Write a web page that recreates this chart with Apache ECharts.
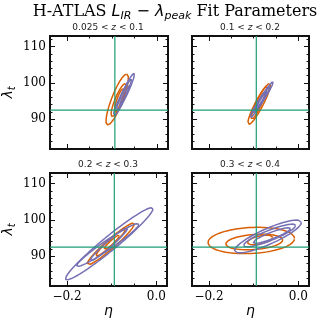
<!DOCTYPE html>
<html><head><meta charset="utf-8">
<script src="https://cdn.jsdelivr.net/npm/echarts@6/dist/echarts.min.js"></script>
<style>html,body{margin:0;padding:0;background:#fff}#c{width:324px;height:323px}</style>
</head><body><div id="c"></div>
<script>
// ---- data ----
const panelTitles = ['0.025 < {i|z} < 0.1', '0.1 < {i|z} < 0.2', '0.2 < {i|z} < 0.3', '0.3 < {i|z} < 0.4'];
const refEta = -0.094;
const refLambda = 92.5;
const xMajorTicks = [-0.2, 0.0];
const xMinorTicks = [-0.2, -0.15, -0.1, -0.05, 0.0];
const yMajorTicks = [90, 100, 110];
const yMinorTicks = [82, 84, 86, 88, 90, 92, 94, 96, 98, 100, 102, 104, 106, 108, 110, 112];
const xRange = [-0.238, 0.024];
const yRange = [81.8, 112.95];
// contour ellipses: [centre eta, centre lambda, half-axis eta, half-axis lambda, conj eta, conj lambda]
const orange_z1 = [
  [-0.0888, 95.45, 0.0209, 7.02, 0.0132, 0],
  [-0.0855, 95.3, 0.0143, 4.55, 0.0088, 0],
  [-0.0844, 95.3, 0.0088, 3.22, 0.0055, 0]];
const purple_z1 = [
  [-0.074, 96.7, 0.0227, 5.98, 0.0066, 0],
  [-0.074, 96.7, 0.0165, 4.4, 0.0044, 0],
  [-0.0722, 96.55, 0.011, 2.75, 0.0029, 0]];
const orange_z2 = [
  [-0.0877, 94.2, 0.0231, 5.65, 0.0099, 0],
  [-0.0877, 94.5, 0.0165, 4.55, 0.0066, 0],
  [-0.0855, 94.6, 0.011, 3.03, 0.0044, 0]];
const purple_z2 = [
  [-0.0826, 95.3, 0.0258, 5.04, 0.0055, 0],
  [-0.0826, 95.3, 0.0187, 3.72, 0.004, 0],
  [-0.0826, 95.3, 0.0121, 2.48, 0.0026, 0]];
const orange_z3 = [
  [-0.102, 93.4, 0.0529, 5.51, 0, 1.65],
  [-0.102, 93.8, 0.033, 3.58, 0, 1.1],
  [-0.100, 93.8, 0.0176, 1.93, 0, 0.69]];
const purple_z3 = [
  [-0.1053, 93.44, 0.098, 9.64, 0, 2.48],
  [-0.1086, 93.1, 0.0698, 5.73, 0, 1.52],
  [-0.1064, 93.25, 0.0419, 4.41, 0, 1.1]];
const orange_z4 = [
  [-0.1053, 94.35, 0.0969, 0.55, 0, 3.58],
  [-0.0987, 93.94, 0.0639, 0.55, 0, 2.07],
  [-0.0855, 94.5, 0.0286, 0.69, 0, 1.1]];
const purple_z4 = [
  [-0.0678, 95.45, 0.0749, 3.86, 0, 2.34],
  [-0.0641, 95.73, 0.0584, 2.75, 0, 1.52],
  [-0.059, 95.73, 0.0419, 1.93, 0, 0.96]];

const ORANGE = '#d95f02', PURPLE = '#7570b3', GREEN = '#1b9e77';
const panels = [
  {orange: orange_z1, purple: purple_z1},
  {orange: orange_z2, purple: purple_z2},
  {orange: orange_z3, purple: purple_z3},
  {orange: orange_z4, purple: purple_z4}];

const gridRects = [
  {left: 49, top: 36, width: 119, height: 113},
  {left: 192, top: 36, width: 117, height: 113},
  {left: 49, top: 173, width: 118, height: 113},
  {left: 192, top: 173, width: 117, height: 113}];

function ellipse(p) {
  const pts = [];
  const N = 120;
  for (let i = 0; i <= N; i++) {
    const t = 2 * Math.PI * i / N;
    pts.push([p[0] + p[2] * Math.cos(t) + p[4] * Math.sin(t),
              p[1] + p[3] * Math.cos(t) + p[5] * Math.sin(t)]);
  }
  return pts;
}
const fmtX = v => (v < 0 ? '\u2212' : '') + Math.abs(v).toFixed(1);
const tickStyle = {color: '#111', width: 1};
const labelFont = {fontFamily: 'DejaVu Serif', fontSize: 12, color: '#000'};

const grids = [], xAxes = [], yAxes = [], series = [];
gridRects.forEach((r, g) => {
  grids.push(Object.assign({show: true, borderColor: '#111', borderWidth: 2, backgroundColor: 'transparent', containLabel: false}, r));
  const bottomRow = g >= 2, leftCol = g % 2 === 0;
  const mkX = (pos, ticks, len, labels) => ({
    gridIndex: g, type: 'value', position: pos, min: xRange[0], max: xRange[1],
    axisLine: {show: false, onZero: false}, splitLine: {show: false},
    axisTick: {show: true, inside: true, length: len, customValues: ticks, lineStyle: tickStyle},
    axisLabel: Object.assign({show: labels, customValues: xMajorTicks, formatter: fmtX, margin: 5}, labelFont),
    name: labels ? '\u03b7' : '', nameLocation: 'middle', nameGap: 17,
    nameTextStyle: {fontFamily: 'DejaVu Sans', fontStyle: 'italic', fontSize: 14, color: '#000'}
  });
  const mkY = (pos, ticks, len, labels) => ({
    gridIndex: g, type: 'value', position: pos, min: yRange[0], max: yRange[1],
    axisLine: {show: false, onZero: false}, splitLine: {show: false},
    axisTick: {show: true, inside: true, length: len, customValues: ticks, lineStyle: tickStyle},
    axisLabel: Object.assign({show: labels, customValues: yMajorTicks, formatter: v => String(Math.round(v)), margin: 4}, labelFont),
    name: labels ? '{a|\u03bb}{b|t}' : '', nameLocation: 'middle', nameGap: 33, nameRotate: 90,
    nameTextStyle: {rich: {
      a: {fontFamily: 'DejaVu Sans', fontStyle: 'italic', fontSize: 14, lineHeight: 18, color: '#000'},
      b: {fontFamily: 'DejaVu Sans', fontStyle: 'italic', fontSize: 10, lineHeight: 9, verticalAlign: 'bottom', color: '#000'}}}
  });
  xAxes.push(mkX('bottom', xMajorTicks, 5, bottomRow), mkX('bottom', xMinorTicks, 2.5, false),
             mkX('top', xMajorTicks, 5, false), mkX('top', xMinorTicks, 2.5, false));
  yAxes.push(mkY('left', yMajorTicks, 5, leftCol), mkY('left', yMinorTicks, 2.5, false),
             mkY('right', yMajorTicks, 5, false), mkY('right', yMinorTicks, 2.5, false));
  const p = panels[g];
  const line = (data, color, width, z) => series.push({
    type: 'line', xAxisIndex: 4 * g, yAxisIndex: 4 * g, data: data, showSymbol: false,
    symbol: 'none', smooth: false, silent: true, animation: false, clip: true,
    lineStyle: {color: color, width: width}, z: z
  });
  p.orange.forEach(e => line(ellipse(e), ORANGE, 1.5, 3));
  p.purple.forEach(e => line(ellipse(e), PURPLE, 1.5, 3));
  line([[refEta, yRange[0]], [refEta, yRange[1]]], GREEN, 1.2, 5);
  line([[xRange[0], refLambda], [xRange[1], refLambda]], GREEN, 1.2, 5);
});

const subTitleCenters = [[108, 28], [250, 28], [108, 165], [250, 165]];
const graphics = [{
  type: 'text', x: 175, y: 12, z: 10,
  style: {
    text: '{s|H-ATLAS }{m|L}{sb|IR}{n| \u2212 }{m|\u03bb}{sb|peak}{s| Fit Parameters}',
    align: 'center', verticalAlign: 'middle', textAlign: 'center', textVerticalAlign: 'middle',
    rich: {
      s: {fontFamily: 'DejaVu Serif', fontSize: 16, lineHeight: 20, fill: '#000', color: '#000'},
      m: {fontFamily: 'DejaVu Sans', fontStyle: 'italic', fontSize: 16, lineHeight: 20, fill: '#000', color: '#000'},
      n: {fontFamily: 'DejaVu Sans', fontSize: 16, lineHeight: 20, fill: '#000', color: '#000'},
      sb: {fontFamily: 'DejaVu Sans', fontStyle: 'italic', fontSize: 11, lineHeight: 10, verticalAlign: 'bottom', fill: '#000', color: '#000'}
    }
  }
}];
panelTitles.forEach((t, i) => graphics.push({
  type: 'text', x: subTitleCenters[i][0], y: subTitleCenters[i][1], z: 10,
  style: {
    text: t, align: 'center', verticalAlign: 'middle', textAlign: 'center', textVerticalAlign: 'middle',
    fontFamily: 'DejaVu Sans', fontSize: 9, fill: '#222',
    rich: {i: {fontFamily: 'DejaVu Sans', fontStyle: 'italic', fontSize: 9, fill: '#222', color: '#222'}}
  }
}));

const chart = echarts.init(document.getElementById('c'), null, {renderer: 'canvas'});
chart.setOption({
  animation: false, backgroundColor: '#fff',
  grid: grids, xAxis: xAxes, yAxis: yAxes, series: series, graphic: graphics
});
</script></body></html>
